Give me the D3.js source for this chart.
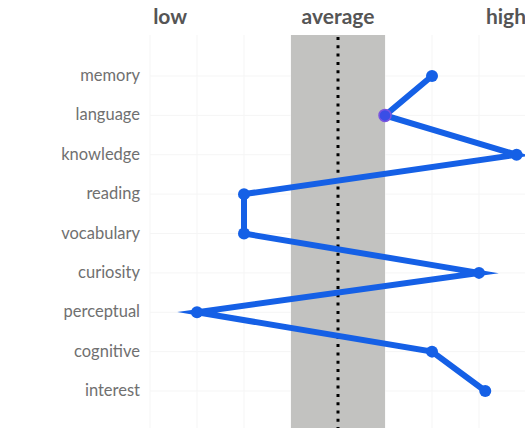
<!DOCTYPE html>
<html>
<head>
<meta charset="utf-8">
<script src="https://cdn.jsdelivr.net/npm/d3@7"></script>
<style>
  body { margin: 0; background: #fff; }
  svg { display: block; }
  .catLabel { font-family: Lato, "Open Sans", sans-serif; fill: #707070; font-size: 16.5px; }
  .head { font-family: Lato, "Open Sans", sans-serif; fill: #555; font-size: 21px; font-weight: bold; }
</style>
</head>
<body>
<div id="chart"></div>
<script>
// scores per skill, standard score scale (100 = average)
var categories = ["memory", "language", "knowledge", "reading", "vocabulary", "curiosity", "perceptual", "cognitive", "interest"];
var scores = [130, 115, 157, 70, 70, 145, 55, 130, 147];
var gridTicks = [40, 55, 70, 85, 100, 115, 130, 145, 160];
var averageBand = [85, 115];
var averageValue = 100;
var headings = [{text: "low", value: 41, anchor: "start"}, {text: "average", value: 100, anchor: "middle"}, {text: "high", value: 160, anchor: "end"}];

var w = 525, h = 431;

var x = d3.scaleLinear()
  .domain([40, 160])
  .range([150, 526]);

var y = d3.scalePoint()
  .domain(categories)
  .range([76, 391]);

var svg = d3.select("#chart").append("svg")
  .attr("width", w)
  .attr("height", h);

var plotTop = 35, plotBottom = 428;

// faint grid
svg.append("g").selectAll("line.v")
  .data(gridTicks)
  .enter().append("line")
  .attr("x1", function(d) { return x(d); })
  .attr("x2", function(d) { return x(d); })
  .attr("y1", plotTop).attr("y2", plotBottom)
  .attr("stroke", "#f5f5f5").attr("stroke-width", 1);

svg.append("g").selectAll("line.h")
  .data(categories)
  .enter().append("line")
  .attr("x1", 150).attr("x2", w)
  .attr("y1", function(d) { return y(d); })
  .attr("y2", function(d) { return y(d); })
  .attr("stroke", "#f5f5f5").attr("stroke-width", 1);

// average band
svg.append("rect")
  .attr("x", x(averageBand[0]))
  .attr("y", plotTop)
  .attr("width", x(averageBand[1]) - x(averageBand[0]))
  .attr("height", plotBottom - plotTop)
  .attr("fill", "#c2c2c0");

// dotted average line
svg.append("line")
  .attr("x1", x(averageValue)).attr("x2", x(averageValue))
  .attr("y1", plotTop + 2).attr("y2", plotBottom)
  .attr("stroke", "#000")
  .attr("stroke-width", 3)
  .attr("stroke-dasharray", "3,5.3");

// headings
svg.selectAll("text.head")
  .data(headings)
  .enter().append("text")
  .attr("class", "head")
  .attr("x", function(d) { return x(d.value); })
  .attr("y", 24)
  .style("text-anchor", function(d) { return d.anchor; })
  .text(function(d) { return d.text; });

// category labels
svg.selectAll("text.catLabel")
  .data(categories)
  .enter().append("text")
  .attr("class", "catLabel")
  .attr("x", 140)
  .attr("y", function(d) { return y(d) + 5; })
  .style("text-anchor", "end")
  .text(function(d) { return d; });

var points = categories.map(function(c, i) { return {cat: c, score: scores[i]}; });

var line = d3.line()
  .x(function(d) { return x(d.score); })
  .y(function(d) { return y(d.cat); });

svg.append("path")
  .datum(points)
  .attr("d", line)
  .attr("fill", "none")
  .attr("stroke", "#1560e6")
  .attr("stroke-width", 6)
  .attr("stroke-linejoin", "miter")
  .attr("stroke-miterlimit", 20);

svg.selectAll("circle")
  .data(points)
  .enter().append("circle")
  .attr("cx", function(d) { return x(d.score); })
  .attr("cy", function(d) { return y(d.cat); })
  .attr("r", 6)
  .attr("fill", function(d) { return d.cat == "language" ? "#3a4ee6" : "#1560e6"; })
  .attr("stroke", function(d) { return d.cat == "language" ? "#7a55e0" : "none"; })
  .attr("stroke-width", 1.5);
</script>
</body>
</html>
